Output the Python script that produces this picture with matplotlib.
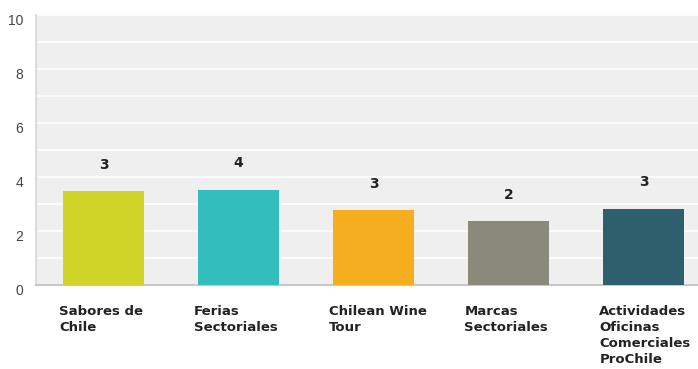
import matplotlib.pyplot as plt
from matplotlib.transforms import blended_transform_factory, ScaledTranslation

categories = ['Sabores de\nChile', 'Ferias\nSectoriales', 'Chilean Wine\nTour',
              'Marcas\nSectoriales', 'Actividades\nOficinas\nComerciales\nProChile']
values = [3.48, 3.53, 2.78, 2.37, 2.82]
colors = ['#cfd427', '#33bdbd', '#f5ae20', '#8a8a7a', '#2e5f6c']

plt.rcParams['font.family'] = ['Liberation Sans', 'DejaVu Sans']

fig = plt.figure(figsize=(6.98, 3.69), dpi=100)
ax = fig.add_axes([36 / 698, 84 / 369, 662 / 698, 270 / 369])
ax.set_facecolor('#efefef')

x = list(range(len(values)))
ax.bar(x, values, width=0.6, color=colors, zorder=3)

ax.set_xlim(-0.5, 4.4)
ax.set_ylim(0, 10)
ax.set_yticks(range(0, 11, 2))
ax.set_yticks(range(0, 11), minor=True)
ax.grid(True, axis='y', which='both', color='white', linewidth=1.1, zorder=1)
ax.set_xticks([])
ax.tick_params(axis='y', which='both', length=0, labelsize=10, labelcolor='#444444', pad=9)
shift = ScaledTranslation(0, -3 / 72, fig.dpi_scale_trans)
for lbl in ax.get_yticklabels():
    lbl.set_transform(lbl.get_transform() + shift)

for side in ['top', 'right']:
    ax.spines[side].set_visible(False)
ax.spines['left'].set_color('#dddddd')
ax.spines['bottom'].set_color('#c8c8c8')
ax.spines['left'].set_linewidth(1.5)
ax.spines['bottom'].set_linewidth(1.5)

# value labels above bars
for xi, v in zip(x, values):
    ax.annotate(str(int(round(v))), (xi, v), xytext=(0, 19), textcoords='offset points',
                ha='center', va='center', fontsize=10, fontweight='bold', color='#222222',
                family='DejaVu Sans')

# category labels, left aligned under each bar
trans = blended_transform_factory(ax.transData, ax.transAxes)
for xi, name in zip(x, categories):
    ax.text(xi - 0.33, -0.075, name, transform=trans, ha='left', va='top',
            fontsize=9.5, fontweight='bold', color='#222222', linespacing=1.3,
            family='DejaVu Sans')

fig.savefig('out.png', dpi=100)
